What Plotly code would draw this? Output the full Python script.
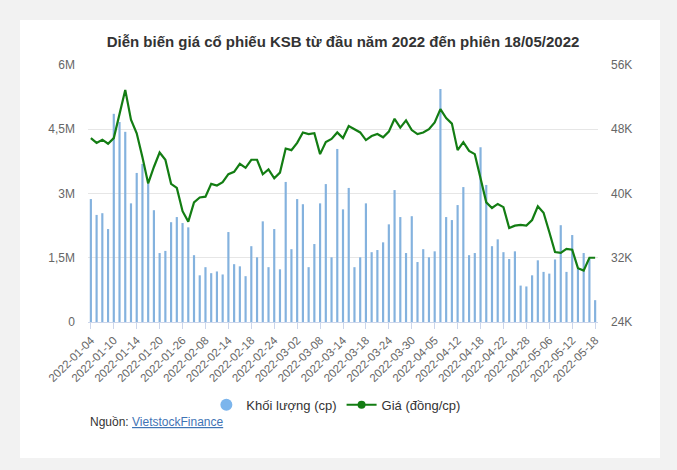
import plotly.graph_objects as go

dates = [
    "2022-01-04", "2022-01-05", "2022-01-06", "2022-01-07", "2022-01-10", "2022-01-11", "2022-01-12",
    "2022-01-13", "2022-01-14", "2022-01-17", "2022-01-18", "2022-01-19", "2022-01-20", "2022-01-21",
    "2022-01-24", "2022-01-25", "2022-01-26", "2022-01-27", "2022-01-28",
    "2022-02-07", "2022-02-08", "2022-02-09", "2022-02-10", "2022-02-11", "2022-02-14", "2022-02-15",
    "2022-02-16", "2022-02-17", "2022-02-18", "2022-02-21", "2022-02-22", "2022-02-23", "2022-02-24",
    "2022-02-25", "2022-02-28",
    "2022-03-01", "2022-03-02", "2022-03-03", "2022-03-04", "2022-03-07", "2022-03-08", "2022-03-09",
    "2022-03-10", "2022-03-11", "2022-03-14", "2022-03-15", "2022-03-16", "2022-03-17", "2022-03-18",
    "2022-03-21", "2022-03-22", "2022-03-23", "2022-03-24", "2022-03-25", "2022-03-28", "2022-03-29",
    "2022-03-30", "2022-03-31",
    "2022-04-01", "2022-04-04", "2022-04-05", "2022-04-06", "2022-04-07", "2022-04-08", "2022-04-12",
    "2022-04-13", "2022-04-14", "2022-04-15", "2022-04-18", "2022-04-19", "2022-04-20", "2022-04-21",
    "2022-04-22", "2022-04-25", "2022-04-26", "2022-04-27", "2022-04-28", "2022-04-29",
    "2022-05-04", "2022-05-05", "2022-05-06", "2022-05-09", "2022-05-10", "2022-05-11", "2022-05-12",
    "2022-05-13", "2022-05-16", "2022-05-17", "2022-05-18",
]

# Khối lượng (triệu cp)
volume_m = [
    2.87, 2.50, 2.54, 2.17, 4.86, 4.67, 4.44, 2.77, 3.48, 3.69, 3.23, 2.61, 1.61, 1.66, 2.33, 2.45,
    2.31, 2.21, 1.56, 1.09, 1.28, 1.14, 1.18, 1.11, 2.10, 1.35, 1.30, 1.07, 1.77, 1.51, 2.35, 1.28,
    2.17, 1.23, 3.27, 1.70, 2.87, 2.75, 1.28, 1.82, 2.77, 3.22, 1.51, 4.04, 2.63, 3.13, 1.28, 1.51,
    2.77, 1.63, 1.68, 1.86, 2.28, 3.08, 2.45, 1.61, 2.47, 1.40, 1.70, 1.51, 1.65, 5.44, 2.45, 2.38,
    2.73, 3.15, 1.56, 1.61, 4.08, 3.20, 1.77, 1.93, 1.63, 1.47, 1.65, 0.85, 0.83, 1.09, 1.44, 1.17,
    1.13, 1.46, 2.26, 1.17, 2.03, 1.24, 1.61, 1.48, 0.51,
]

# Giá (nghìn đồng/cp)
price_k = [
    46.9, 46.3, 46.7, 46.2, 46.9, 50.0, 52.9, 49.2, 47.5, 44.5, 41.25, 43.3, 45.1, 44.2, 41.2, 40.7,
    37.8, 36.5, 38.9, 39.5, 39.6, 41.2, 41.0, 41.4, 42.4, 42.7, 43.7, 43.2, 44.2, 44.2, 42.4, 43.0,
    41.9, 42.6, 45.6, 45.4, 46.3, 47.6, 47.4, 47.5, 44.9, 46.4, 46.8, 47.6, 46.9, 48.4, 48.0, 47.6,
    46.65, 47.15, 47.4, 47.0, 47.7, 49.3, 48.2, 49.1, 47.9, 47.4, 47.6, 48.0, 48.85, 50.5, 49.4, 48.7,
    45.4, 46.4, 45.3, 44.9, 41.9, 38.9, 38.2, 38.7, 38.3, 35.7, 36.0, 36.1, 36.0, 36.7, 38.4, 37.6,
    35.2, 32.7, 32.6, 33.1, 33.0, 30.7, 30.4, 32.0, 32.0,
]

left_tickvals = [0, 1.5, 3, 4.5, 6]
left_ticktext = ["0", "1,5M", "3M", "4,5M", "6M"]
right_tickvals = [24, 32, 40, 48, 56]
right_ticktext = ["24K", "32K", "40K", "48K", "56K"]
x_ticks = dates[::4]

title_text = "<b>Diễn biến giá cổ phiếu KSB từ đầu năm 2022 đến phiên 18/05/2022</b>"
bar_name = "Khối lượng (cp)"
line_name = "Giá (đồng/cp)"

BAR_COLOR = "#84b2de"
LINE_COLOR = "#137d13"
FONT = "Liberation Sans, Arial, sans-serif"

fig = go.Figure()
fig.add_trace(go.Bar(x=dates, y=volume_m, marker=dict(color=BAR_COLOR, line=dict(width=0)),
                     name=bar_name, showlegend=False, yaxis="y"))
fig.add_trace(go.Scatter(x=dates, y=price_k, mode="lines", line=dict(color=LINE_COLOR, width=2.2),
                         name=line_name, showlegend=False, yaxis="y2"))
# legend-only entries
fig.add_trace(go.Scatter(x=[None], y=[None], mode="markers", name=bar_name,
                         marker=dict(color="#7cb5ec", size=12, symbol="circle"), yaxis="y"))
fig.add_trace(go.Scatter(x=[None], y=[None], mode="lines+markers", name=line_name,
                         marker=dict(color=LINE_COLOR, size=8), line=dict(color=LINE_COLOR, width=2),
                         yaxis="y2"))

fig.update_layout(
    width=677, height=470,
    margin=dict(l=88, r=79, t=65, b=148),
    paper_bgcolor="#f2f2f2",
    plot_bgcolor="white",
    font=dict(family=FONT, color="#666666", size=12),
    title=dict(text=title_text, x=0.5, xref="paper", xanchor="center", y=1 - 42 / 470, yanchor="middle",
               font=dict(size=15, color="#333333", family=FONT)),
    bargap=0.62,
    showlegend=True,
    legend=dict(orientation="h", x=0.486, xanchor="center", y=-0.322, yanchor="middle",
                font=dict(size=13, color="#333333"), bgcolor="rgba(0,0,0,0)", itemwidth=30,
                tracegroupgap=0),
    xaxis=dict(type="category", tickmode="array", tickvals=x_ticks, ticktext=x_ticks, tickangle=-45,
               ticks="outside", ticklen=6, tickcolor="#ccd6eb", showline=True, linecolor="#ccd6eb",
               showgrid=False, tickfont=dict(size=11.5, color="#666666"), range=[-0.5, len(dates) - 0.5]),
    yaxis=dict(range=[0, 6], tickvals=left_tickvals, ticktext=left_ticktext, showgrid=True,
               gridcolor="#e6e6e6", zeroline=False, tickfont=dict(size=12, color="#666666"),
               ticklabelstandoff=12),
    yaxis2=dict(range=[24, 56], tickvals=right_tickvals, ticktext=right_ticktext, overlaying="y",
                side="right", showgrid=False, zeroline=False, tickfont=dict(size=12, color="#666666"),
                ticklabelstandoff=12),
    shapes=[dict(type="rect", xref="paper", yref="paper", x0=-68 / 510, x1=1 + 62 / 510,
                 y0=-(458 - 322) / 257, y1=1 + 45 / 257, fillcolor="white", line=dict(width=0),
                 layer="below")],
    annotations=[dict(text="Nguồn: <span style='color:#3f74b5'><u>VietstockFinance</u></span>",
                      xref="paper", yref="paper", x=0, y=-(422 - 322) / 257, xanchor="left",
                      yanchor="middle", showarrow=False, font=dict(size=12, color="#333333"))],
)

fig.write_html("out.html", config={"displayModeBar": False},
               post_script="document.body.style.margin='0px';")
